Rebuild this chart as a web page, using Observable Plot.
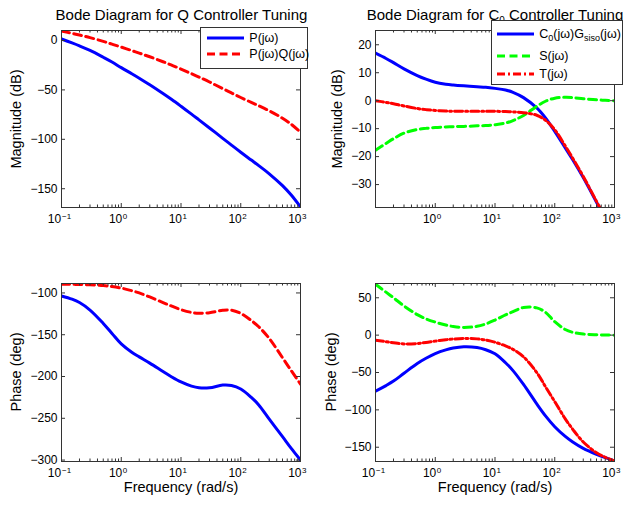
<!DOCTYPE html>
<html>
<head>
<meta charset="utf-8">
<script src="https://cdn.jsdelivr.net/npm/d3@7"></script>
<script src="https://cdn.jsdelivr.net/npm/@observablehq/plot@0.6"></script>
<style>
  body { margin: 0; background: #fff; }
  #root { position: relative; width: 624px; height: 506px; background: #fff; font-family: "Liberation Sans", Arial, sans-serif; overflow: hidden; }
  .panel { position: absolute; }
  .title { position: absolute; width: 300px; text-align: center; font-size: 15px; line-height: 18px; color: #000; white-space: nowrap; }
  .title sub { font-size: 10px; vertical-align: -4px; line-height: 0; }
  .ylab { position: absolute; font-size: 14.5px; line-height: 16px; white-space: nowrap; color: #000; transform: translate(-50%, -50%) rotate(-90deg); }
  .legend { position: absolute; background: #fff; border: 1px solid #333; box-sizing: border-box; z-index: 5; }
  .lrow { position: absolute; left: 0; height: 0; }
  .lrow svg { position: absolute; top: -4px; }
  .lrow span { position: absolute; top: -8px; font-size: 12.5px; line-height: 16px; white-space: nowrap; color: #000; }
  .lrow sub { font-size: 9px; vertical-align: -3px; line-height: 0; }
</style>
</head>
<body>
<div id="root"></div>
<script>
// ---------- data ----------
const freq = [0.1, 0.15, 0.2, 0.3, 0.5, 0.7, 1, 1.5, 2, 3, 5, 7, 10, 15, 20, 30, 50, 70, 100, 150, 200, 300, 500, 700, 1000];

// Q controller tuning – magnitude (dB)
const pMag  = [1.5, -2.5, -5.5, -10.1, -17, -21.8, -27.5, -33.7, -38.2, -44.8, -53.7, -59.8, -66.6, -74.5, -80.3, -88.5, -99, -105.9, -113.1, -121, -126.6, -134.9, -146.9, -156.4, -168.5];
const pqMag = [9.5, 7.2, 5.5, 2.9, -0.9, -3.7, -6.7, -10.2, -12.8, -16.5, -21.5, -25, -28.9, -33.6, -37, -42, -48.7, -53.1, -57.7, -62.6, -66.1, -71.2, -78.7, -84.8, -92.9];
// Q controller tuning – phase (deg)
const pPhase  = [-103.6, -107.5, -111.5, -120.5, -136.5, -148.5, -161, -171, -176.5, -184, -194, -200.5, -206.5, -211.5, -213.5, -213.5, -210.3, -210.8, -215, -225, -234, -251, -272, -286, -300];
const pqPhase = [-89.6, -89.7, -89.9, -90.3, -91.2, -92.3, -94.2, -97.3, -100, -104.8, -111.5, -115.8, -120, -123.3, -124.3, -123.6, -120.8, -120.6, -124.5, -133, -140.5, -154.5, -177.5, -193, -209];

// C0 controller tuning – magnitude (dB)
const cgMag = [17, 15.1, 13.6, 11.4, 9.0, 7.7, 6.6, 5.9, 5.6, 5.3, 5.0, 4.8, 4.4, 3.8, 3.0, 1.1, -2.6, -6.2, -11, -16.9, -21.1, -27.5, -36.3, -42.1, -48.2];
const sMag  = [-17.7, -15.3, -13.6, -11.6, -10.3, -9.9, -9.6, -9.4, -9.3, -9.2, -9.0, -8.9, -8.6, -8.0, -7.1, -5.3, -2.0, -0.2, 0.9, 1.2, 1.1, 0.7, 0.3, 0.15, 0];
const tMag  = [0, -0.6, -1.1, -1.9, -2.8, -3.2, -3.5, -3.7, -3.8, -3.8, -3.8, -3.8, -3.8, -3.9, -4.0, -4.3, -5.2, -7.0, -10.4, -16.2, -20.6, -27.1, -36, -41.9, -48];
// C0 controller tuning – phase (deg)
const cgPhase = [-75, -67.5, -61.5, -51, -38, -31, -24.8, -19.8, -17.3, -15.6, -16.6, -19.5, -25, -37, -47.5, -66, -92, -108, -122.5, -135.5, -143, -151.5, -159.5, -164, -168.3];
const sPhase  = [68, 57.5, 50, 39, 27.5, 21.8, 17.5, 13.5, 11.6, 10.3, 11.8, 15, 20.2, 27, 31.5, 37, 36.5, 30.5, 18, 7.5, 3.8, 1.5, 0.5, 0.2, 0];
const tPhase  = [-6.7, -8.8, -10.2, -11.7, -11.2, -9.8, -8, -6.2, -5.2, -4.5, -5.0, -6.6, -9.5, -14.5, -19, -29, -50, -69, -89, -112, -126, -143, -157.5, -163.5, -168.3];

// tick values
const xExps = [-1, 0, 1, 2, 3];
const xExpsC0Mag = [0, 1, 2, 3];
const magTicksQ  = [-150, -100, -50, 0];
const magTicksC0 = [-30, -20, -10, 0, 10, 20];
const phTicksQ   = [-300, -250, -200, -150, -100];
const phTicksC0  = [-150, -100, -50, 0, 50];

// labels
const legendQ  = ["P(jω)", "P(jω)Q(jω)"];
const legendC0 = ["C<sub>0</sub>(jω)G<sub>siso</sub>(jω)", "S(jω)", "T(jω)"];

// ---------- styles ----------
const BLUE = "#0000ff", RED = "#ff0000", GREEN = "#00ff00";
const DASH = "8,4.5", DASHDOT = "8,3,2,3";
const FRAME = "#333";
const FONT = "'Liberation Sans', Arial, sans-serif";

const rows = arr => freq.map((f, i) => ({f, v: arr[i]}));

const minors = [];
for (let e = -1; e < 3; e++) for (let m = 2; m <= 9; m++) minors.push(m * 10 ** e);

function panel(o) {
  const W = 312, H = 253;
  const fw = W - o.mL - o.mR, fh = H - o.mT - o.mB;
  const marks = [];
  for (const s of o.series) {
    marks.push(Plot.line(rows(s.data), {
      x: "f", y: "v", stroke: s.color, strokeWidth: 3,
      strokeDasharray: s.dash || null, curve: "catmull-rom", clip: true
    }));
  }
  marks.push(Plot.frame({stroke: FRAME, strokeWidth: 1}));
  // y ticks inside (left and right)
  marks.push(Plot.tickY(o.yTicks, {y: d => d, insetRight: fw - 4, stroke: FRAME}));
  marks.push(Plot.tickY(o.yTicks, {y: d => d, insetLeft: fw - 4, stroke: FRAME}));
  // x ticks inside (bottom and top)
  const majors = xExps.map(e => 10 ** e);
  marks.push(Plot.tickX(majors, {x: d => d, insetTop: fh - 4, stroke: FRAME}));
  marks.push(Plot.tickX(majors, {x: d => d, insetBottom: fh - 4, stroke: FRAME}));
  marks.push(Plot.tickX(minors, {x: d => d, insetTop: fh - 2.5, stroke: FRAME}));
  marks.push(Plot.tickX(minors, {x: d => d, insetBottom: fh - 2.5, stroke: FRAME}));
  // y tick labels
  marks.push(Plot.axisY({ticks: o.yTicks, tickSize: 0, tickPadding: 4, fontSize: 12, label: null}));
  // x tick labels 10^e
  for (const e of o.xLabels) {
    marks.push(Plot.text([10 ** e], {x: d => d, text: () => "10", frameAnchor: "bottom",
      dy: 15.4, dx: e < 0 ? -0.3 : 1, textAnchor: "end", fontSize: 12}));
    marks.push(Plot.text([10 ** e], {x: d => d, text: () => (e < 0 ? "−" + (-e) : String(e)), frameAnchor: "bottom",
      dy: 11, dx: e < 0 ? 0.6 : 1.6, textAnchor: "start", fontSize: 8}));
  }
  if (o.xlabel) {
    marks.push(Plot.text([o.xlabel], {text: d => d, frameAnchor: "bottom", dy: 30, fontSize: 14.5}));
  }
  const svg = Plot.plot({
    width: W, height: H,
    marginLeft: o.mL, marginRight: o.mR, marginTop: o.mT, marginBottom: o.mB,
    x: {type: "log", domain: [0.1, 1000], axis: null},
    y: {domain: o.yDomain},
    style: {fontFamily: FONT, background: "transparent", overflow: "visible", color: "#000"},
    marks
  });
  svg.classList.add("panel");
  svg.style.left = o.left + "px";
  svg.style.top = o.top + "px";
  root.appendChild(svg);
  // rotated y-axis label
  const yl = document.createElement("div");
  yl.className = "ylab";
  yl.textContent = o.ylabel;
  yl.style.left = o.ylabelX + "px";
  yl.style.top = (o.top + o.mT + fh / 2) + "px";
  root.appendChild(yl);
}

const root = document.getElementById("root");

panel({
  left: 0, top: 0, mL: 61, mR: 12, mT: 30, mB: 46,
  yDomain: [-169, 10.1], yTicks: magTicksQ, xLabels: xExps,
  ylabel: "Magnitude (dB)", ylabelX: 16,
  series: [{data: pMag, color: BLUE}, {data: pqMag, color: RED, dash: DASH}]
});
panel({
  left: 312, top: 0, mL: 63, mR: 10, mT: 30, mB: 46,
  yDomain: [-38.2, 25.1], yTicks: magTicksC0, xLabels: xExpsC0Mag,
  ylabel: "Magnitude (dB)", ylabelX: 337,
  series: [{data: cgMag, color: BLUE}, {data: sMag, color: GREEN, dash: DASH}, {data: tMag, color: RED, dash: DASHDOT}]
});
panel({
  left: 0, top: 253, mL: 61, mR: 12, mT: 30, mB: 45,
  yDomain: [-301.7, -88.7], yTicks: phTicksQ, xLabels: xExps,
  ylabel: "Phase (deg)", ylabelX: 16, xlabel: "Frequency (rad/s)",
  series: [{data: pPhase, color: BLUE}, {data: pqPhase, color: RED, dash: DASH}]
});
panel({
  left: 312, top: 253, mL: 63, mR: 10, mT: 30, mB: 45,
  yDomain: [-169.1, 69.1], yTicks: phTicksC0, xLabels: xExps,
  ylabel: "Phase (deg)", ylabelX: 331, xlabel: "Frequency (rad/s)",
  series: [{data: cgPhase, color: BLUE}, {data: sPhase, color: GREEN, dash: DASH}, {data: tPhase, color: RED, dash: DASHDOT}]
});

// titles
function addTitle(html, cx, top) {
  const d = document.createElement("div");
  d.className = "title";
  d.innerHTML = html;
  d.style.left = (cx - 150) + "px";
  d.style.top = top + "px";
  root.appendChild(d);
}
addTitle("Bode Diagram for Q Controller Tuning", 181.5, 6);
addTitle("Bode Diagram for C<sub>0</sub> Controller Tuning", 495, 6);

// legends
function addLegend(box, items) {
  const d = document.createElement("div");
  d.className = "legend";
  Object.assign(d.style, {left: box.left + "px", top: box.top + "px", width: box.width + "px", height: box.height + "px"});
  items.forEach(it => {
    const r = document.createElement("div");
    r.className = "lrow";
    r.style.top = (it.y - 1) + "px";
    r.innerHTML = `<svg width="37" height="8" style="left:${box.lineX - 1}px"><line x1="0" x2="37" y1="4" y2="4" stroke="${it.color}" stroke-width="3" ${it.dash ? `stroke-dasharray="${it.dash}"` : ""}/></svg><span style="left:${box.textX - 1}px">${it.label}</span>`;
    d.appendChild(r);
  });
  root.appendChild(d);
}
addLegend({left: 200, top: 26.5, width: 108, height: 42, lineX: 6.7, textX: 49.3}, [
  {label: legendQ[0], color: BLUE, y: 11.8},
  {label: legendQ[1], color: RED, dash: DASH, y: 27.8}
]);
addLegend({left: 490.7, top: 20, width: 132.3, height: 65, lineX: 6.3, textX: 48.6}, [
  {label: legendC0[0], color: BLUE, y: 14},
  {label: legendC0[1], color: GREEN, dash: DASH, y: 36},
  {label: legendC0[2], color: RED, dash: DASHDOT, y: 54.3}
]);
</script>
</body>
</html>
